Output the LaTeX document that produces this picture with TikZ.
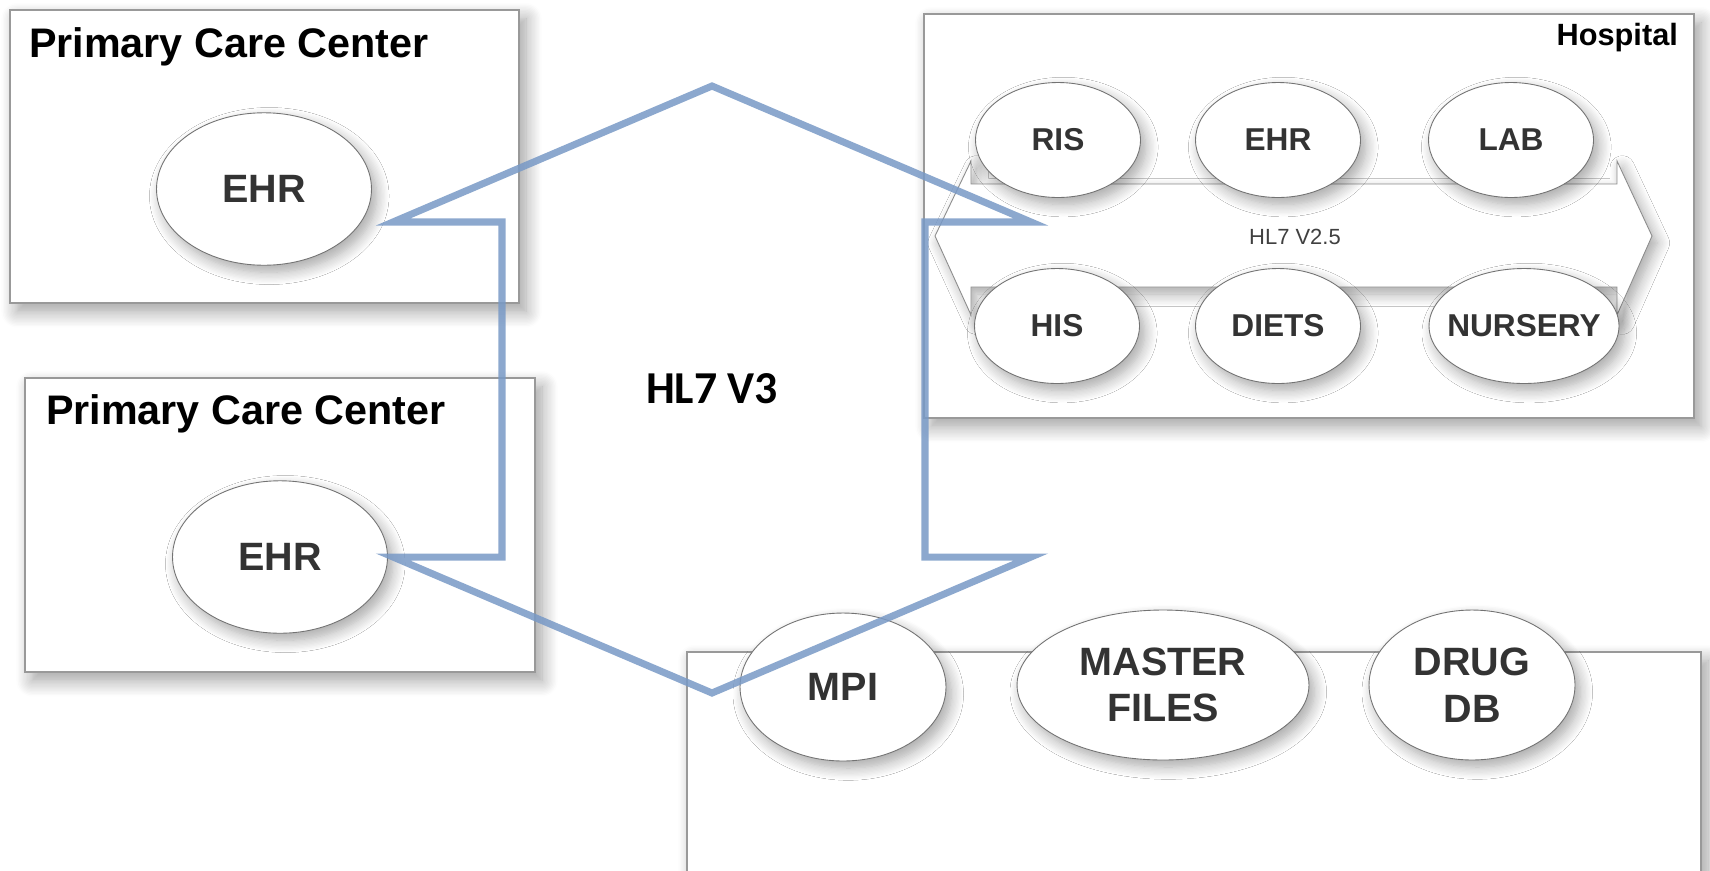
\documentclass[tikz,border=0pt]{standalone}
\usepackage{fontspec}
\setmainfont{Liberation Sans}
\newfontfamily\calfont{Carlito}
\usetikzlibrary{shapes.geometric,shadows.blur}

\begin{document}
\begin{tikzpicture}[x=0.02cm,y=-0.02cm,line join=miter,
  every node/.style={inner sep=1pt},
  soft/.style={blur shadow={shadow xshift=4pt,shadow yshift=-5pt,shadow blur radius=9pt,shadow blur steps=12,shadow opacity=38}},
  softer/.style={blur shadow={shadow xshift=3pt,shadow yshift=-4pt,shadow blur radius=7pt,shadow blur steps=10,shadow opacity=35}},
  site/.style={draw=black!40,line width=0.6pt,fill=white,soft},
  sitetitle/.style={font=\bfseries\fontsize{23.5}{28}\selectfont,anchor=base west},
  sys/.style={ellipse,draw=black!55,line width=0.5pt,fill=white,softer,inner sep=0pt,
    text=black!80,align=center},
  bigsys/.style={sys,font=\bfseries\fontsize{22.5}{26.5}\selectfont},
  hsys/.style={sys,font=\bfseries\fontsize{18}{21}\selectfont,minimum width=3.3cm,minimum height=2.3cm},
  v3arrow/.style={draw={rgb,255:red,120;green,153;blue,198},draw opacity=0.85,line width=4pt}]
  \useasboundingbox (0,0) rectangle (1710,870);
  \clip (0,0) rectangle (1710,870);
  % primary care centers
  \draw[site] (10,10) rectangle (519,303);
  \node[sitetitle] (pcc1) at (27,57) {Primary Care Center};
  \node[bigsys,minimum width=4.3cm,minimum height=3.05cm] (ehr1) at (264,189) {EHR};
  \draw[site] (25,378) rectangle (535,672);
  \node[sitetitle] (pcc2) at (44,424) {Primary Care Center};
  \node[bigsys,minimum width=4.3cm,minimum height=3.05cm] (ehr2) at (280,557) {EHR};
  % hospital
  \draw[site] (924,14) rectangle (1694,418);
  \node[font=\bfseries\fontsize{17.5}{21}\selectfont,anchor=base east] (hosp) at (1680,45) {Hospital};
  \draw[draw=black!45,line width=0.5pt,fill=white,softer] (935,236) -- (971,161) -- (971,184)
    -- (1617,184) -- (1617,161) -- (1652,236) -- (1617,315) -- (1617,287) -- (971,287)
    -- (971,315) -- cycle;
  \node[font=\fontsize{12.5}{15}\selectfont,text=black!75] (v25) at (1295,237) {HL7 V2.5};
  \node[hsys] (ris) at (1058,140) {RIS};
  \node[hsys] (ehr3) at (1278,140) {EHR};
  \node[hsys] (lab) at (1511,140) {LAB};
  \node[hsys] (his) at (1057,326) {HIS};
  \node[hsys] (diets) at (1278,326) {DIETS};
  \node[hsys,minimum width=3.8cm,inner xsep=-0.25cm] (nurs) at (1524,326) {NURSERY};
  % shared services
  \draw[site] (687,652) rectangle (1701,900);
  \node[bigsys,minimum width=4.12cm,minimum height=2.96cm] (mpi) at (843,687) {MPI};
  \node[bigsys,minimum width=5.84cm,minimum height=3cm] (mfiles) at (1163,685) {MASTER\\FILES};
  \node[bigsys,minimum width=4.12cm,minimum height=3cm] (drug) at (1472,685) {DRUG\\DB};
  % HL7 V3 up-down arrow
  \draw[v3arrow] (712,86) -- (1031,222) -- (925,222) -- (925,557) -- (1031,557) -- (712,693)
    -- (393,557) -- (502,557) -- (502,222) -- (393,222) -- cycle;
  \node[font=\calfont\bfseries\fontsize{26}{31}\selectfont] (v3) at (712,389) {HL7 V3};
\end{tikzpicture}
\end{document}
